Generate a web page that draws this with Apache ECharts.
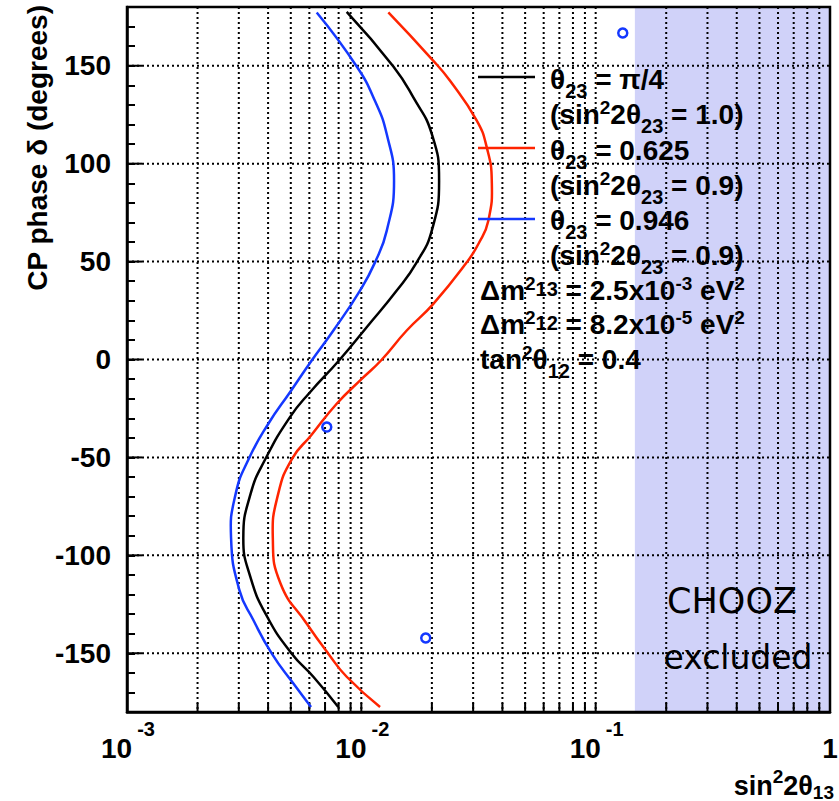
<!DOCTYPE html>
<html><head><meta charset="utf-8">
<script src="https://cdn.jsdelivr.net/npm/echarts@6/dist/echarts.min.js"></script>
<style>html,body{margin:0;padding:0;background:#fff}#c{width:839px;height:801px}</style>
</head><body><div id="c"></div>
<script>
// ---- data ----
const blackDelta = [177.5, 149.6, 133.8, 115.2, 91.3, 65.8, 49.6, 35.2, 16.5, -0.5, -16.7, -29.4, -50.7, -68.5, -91, -111, -131.5, -150.2, -162, -177.4];
const blackX     = [0.00866, 0.01370, 0.01667, 0.01998, 0.02147, 0.01998, 0.01723, 0.01416, 0.01054, 0.00803, 0.00604, 0.00496, 0.00390, 0.00337, 0.003136, 0.00336, 0.00397, 0.00505, 0.00624, 0.00797];
const redDelta   = [177.2, 153.4, 142.3, 122, 108.3, 91.3, 70.9, 59, 49.6, 28.4, 14.8, -0.5, -9.9, -22.6, -38.8, -50.7, -68.5, -91, -114.4, -134.9, -150.2, -162, -177.4];
const redX       = [0.01304, 0.01998, 0.02391, 0.03109, 0.03430, 0.03603, 0.03483, 0.03158, 0.02818, 0.02029, 0.01562, 0.01213, 0.01004, 0.00785, 0.00610, 0.00506, 0.00442, 0.00419, 0.00452, 0.00585, 0.00723, 0.00866, 0.01202];
const blueDelta  = [177.2, 149.6, 132, 115, 91.3, 65.8, 49.6, 35.2, 14.8, -0.5, -16.7, -32.8, -50.7, -68.5, -91, -117.9, -133, -150.2, -165.5, -177.4];
const blueX      = [0.00645, 0.00956, 0.01144, 0.01284, 0.01379, 0.01284, 0.01144, 0.00987, 0.00760, 0.00614, 0.00496, 0.00401, 0.00331, 0.00291, 0.00278, 0.00302, 0.00346, 0.00415, 0.00513, 0.00610];
const pointX     = [0.1305, 0.00712, 0.01883];
const pointDelta = [166.7, -34.5, -142.2];
const choozLimit = 0.147;
const yGridValues = [-150, -100, -50, 0, 50, 100, 150];
const xGridValues = [0.002,0.003,0.004,0.005,0.006,0.007,0.008,0.009,0.01,
                     0.02,0.03,0.04,0.05,0.06,0.07,0.08,0.09,0.1,
                     0.2,0.3,0.4,0.5,0.6,0.7,0.8,0.9];
const xDecades   = [0.001, 0.01, 0.1, 1];
const xDecadeExp = ['-3', '-2', '-1', ''];

// ---- helpers ----
const FONT = '"Liberation Sans", Arial, Helvetica, sans-serif';
const BLACK = '#000000', RED = '#ff2400', BLUE = '#1438ff', SHADE = '#d0d2f9';
const mctx = document.createElement('canvas').getContext('2d');
function tw(t, size) { mctx.font = 'bold ' + size + 'px ' + FONT; return mctx.measureText(t).width; }
function txt(x, y, t, size, align, extra) {
  const font = 'bold ' + size + 'px ' + FONT;
  return Object.assign({ type: 'text', x: x, y: y, z: 100,
    style: { text: t, font: font, fill: BLACK, textAlign: align || 'left', align: align || 'left',
             textVerticalAlign: 'middle', verticalAlign: 'middle' } }, extra || {});
}
function richLine(x, yc, segs, kinds, anchor) {
  let total = 0;
  segs.forEach(s => { total += tw(s[0], kinds[s[1]][0]); });
  let cx = anchor === 'right' ? x - total : x;
  const out = [];
  segs.forEach(s => {
    const k = kinds[s[1]];
    out.push(txt(cx, yc + k[1], s[0], k[0], 'left'));
    cx += tw(s[0], k[0]);
  });
  return out;
}
const LK = { m: [28, 0], sup: [19, -7], sub: [20, 12], mid: [20, -1] };
const TK = { m: [27, 0], sup: [19, -10], sub: [19, 6] };

const legendLines = [
  [550, 79, [['θ','m'],['23','sub'],[' = π/4','m']]],
  [550, 114, [['(sin','m'],['2','sup'],['2θ','m'],['23','sub'],[' = 1.0)','m']]],
  [550, 150, [['θ','m'],['23','sub'],[' = 0.625','m']]],
  [550, 185, [['(sin','m'],['2','sup'],['2θ','m'],['23','sub'],[' = 0.9)','m']]],
  [550, 220, [['θ','m'],['23','sub'],[' = 0.946','m']]],
  [550, 255, [['(sin','m'],['2','sup'],['2θ','m'],['23','sub'],[' = 0.9)','m']]],
  [480, 290, [['Δm','m'],['2','sup'],['13','mid'],[' = 2.5x10','m'],['-3','sup'],[' eV','m'],['2','sup']]],
  [480, 324, [['Δm','m'],['2','sup'],['12','mid'],[' = 8.2x10','m'],['-5','sup'],[' eV','m'],['2','sup']]],
  [480, 359, [['tan','m'],['2','sup'],['θ','m'],['12','sub'],[' = 0.4','m']]]
];
let graphics = [];
legendLines.forEach(l => { graphics = graphics.concat(richLine(l[0], l[1], l[2], LK, 'left')); });
[[77, BLACK], [148, RED], [219, BLUE]].forEach(s => {
  graphics.push({ type: 'line', z: 100, shape: { x1: 478, y1: s[0], x2: 535, y2: s[0] }, style: { stroke: s[1], lineWidth: 2.5 } });
});
graphics = graphics.concat(richLine(834, 786, [['sin','m'],['2','sup'],['2θ','m'],['13','sub']], TK, 'right'));
graphics.push({ type: 'text', x: 37, y: 5, rotation: Math.PI / 2, z: 100,
  style: { text: 'CP phase δ (degrees)', font: 'bold 28px ' + FONT, fill: BLACK,
           textAlign: 'right', align: 'right', textVerticalAlign: 'middle', verticalAlign: 'middle' } });
graphics.push({ type: 'text', x: 732, y: 601, z: 100,
  style: { text: 'CHOOZ', font: '35px "DejaVu Sans", sans-serif', fill: BLACK, textAlign: 'center', align: 'center', textVerticalAlign: 'middle', verticalAlign: 'middle' } });
graphics.push({ type: 'text', x: 738, y: 657, z: 100,
  style: { text: 'excluded', font: '33px "DejaVu Sans", sans-serif', fill: BLACK, textAlign: 'center', align: 'center', textVerticalAlign: 'middle', verticalAlign: 'middle' } });

const DOT = { stroke: BLACK, lineWidth: 2, lineDash: [2, 3] };

// smooth curve through the data points, mapped through the axes' scales
function curveSeries(name, xs, ds, color) {
  return {
    name: name, type: 'custom', z: 4, clip: true,
    data: xs.map((x, i) => [x, ds[i]]),
    renderItem: (p, api) => {
      if (p.dataIndexInside !== 0) return { type: 'group', children: [] };
      const n = p.dataInsideLength;
      const pts = [];
      for (let i = 0; i < n; i++) pts.push(api.coord([api.value(0, i), api.value(1, i)]));
      return { type: 'polyline', shape: { points: pts, smooth: 0.5 },
               style: { stroke: color, lineWidth: 2.5, fill: 'none' } };
    }
  };
}

const option = {
  animation: false,
  backgroundColor: '#ffffff',
  grid: { left: 127, right: 9, top: 7, bottom: 89, show: false },
  xAxis: {
    type: 'log', logBase: 10, min: 0.001, max: 1,
    axisLine: { show: true, onZero: false, lineStyle: { color: BLACK, width: 2.5 } },
    axisTick: { show: false }, axisLabel: { show: false }, splitLine: { show: false }, minorTick: { show: false }
  },
  yAxis: {
    type: 'value', min: -180, max: 180, interval: 10,
    axisLine: { show: true, onZero: false, lineStyle: { color: BLACK, width: 2.5 } },
    axisTick: { show: true, inside: true, length: 8, lineStyle: { color: BLACK, width: 2 } },
    axisLabel: { show: true, margin: 16, color: BLACK, fontSize: 28, fontWeight: 'bold', fontFamily: FONT,
                 formatter: v => (v % 50 === 0 && Math.abs(v) < 180) ? String(v) : '' },
    splitLine: { show: false }
  },
  graphic: graphics,
  series: [
    { // CHOOZ excluded region
      type: 'custom', z: 1, clip: false, silent: true,
      data: [[choozLimit, 1]],
      renderItem: (p, api) => {
        const a = api.coord([api.value(0), 180]), b = api.coord([api.value(1), -180]);
        return { type: 'rect', shape: { x: a[0], y: a[1], width: b[0] - a[0], height: b[1] - a[1] }, style: { fill: SHADE } };
      }
    },
    { // vertical dotted grid
      type: 'custom', z: 2, clip: false, silent: true,
      data: xGridValues.map(v => [v, 0]),
      renderItem: (p, api) => {
        const a = api.coord([api.value(0), 180]), b = api.coord([api.value(0), -180]);
        return { type: 'line', shape: { x1: a[0], y1: a[1], x2: b[0], y2: b[1] }, style: DOT };
      }
    },
    { // horizontal dotted grid
      type: 'custom', z: 2, clip: false, silent: true,
      data: yGridValues.map(v => [0.001, v]),
      renderItem: (p, api) => {
        const a = api.coord([0.001, api.value(1)]), b = api.coord([1, api.value(1)]);
        return { type: 'line', shape: { x1: a[0], y1: a[1], x2: b[0], y2: b[1] }, style: DOT };
      }
    },
    { // x ticks
      type: 'custom', z: 3, clip: false, silent: true,
      data: xGridValues.map(v => [v, -180]),
      renderItem: (p, api) => {
        const a = api.coord([api.value(0), -180]);
        return { type: 'line', shape: { x1: a[0], y1: a[1], x2: a[0], y2: a[1] - 9 }, style: { stroke: BLACK, lineWidth: 2 } };
      }
    },
    { // y major ticks
      type: 'custom', z: 3, clip: false, silent: true,
      data: yGridValues.map(v => [0.001, v]),
      renderItem: (p, api) => {
        const a = api.coord([0.001, api.value(1)]);
        return { type: 'line', shape: { x1: a[0], y1: a[1], x2: a[0] + 15, y2: a[1] }, style: { stroke: BLACK, lineWidth: 2 } };
      }
    },
    { // x decade labels 10^k
      type: 'custom', z: 3, clip: false, silent: true,
      data: xDecades.map(v => [v, -180]),
      renderItem: (p, api) => {
        const a = api.coord([api.value(0), -180]);
        const e = xDecadeExp[p.dataIndex];
        if (!e) return txt(a[0], a[1] + 36, '1', 28, 'center');
        const w1 = tw('10', 28), w2 = tw(e, 20), gap = 5;
        const left = a[0] + 1 - (w1 + gap + w2) / 2;
        return { type: 'group', children: [
          txt(left, a[1] + 36, '10', 28, 'left'),
          txt(left + w1 + gap, a[1] + 17, e, 20, 'left')
        ] };
      }
    },
    curveSeries('θ23 = π/4', blackX, blackDelta, BLACK),
    curveSeries('θ23 = 0.625', redX, redDelta, RED),
    curveSeries('θ23 = 0.946', blueX, blueDelta, BLUE),
    { type: 'scatter', z: 5, data: pointX.map((x, i) => [x, pointDelta[i]]), symbol: 'circle', symbolSize: 9,
      itemStyle: { color: 'rgba(255,255,255,0)', borderColor: BLUE, borderWidth: 2.5, opacity: 1 } },
    { // frame
      type: 'custom', z: 10, clip: false, silent: true,
      data: [[0.001, 180]],
      renderItem: (p, api) => {
        const a = api.coord([0.001, 180]), b = api.coord([1, -180]);
        return { type: 'rect', shape: { x: a[0], y: a[1], width: b[0] - a[0], height: b[1] - a[1] }, style: { fill: 'none', stroke: BLACK, lineWidth: 2.5 } };
      }
    }
  ]
};
const chart = echarts.init(document.getElementById('c'), null, { renderer: 'svg' });
chart.setOption(option);
</script></body></html>
